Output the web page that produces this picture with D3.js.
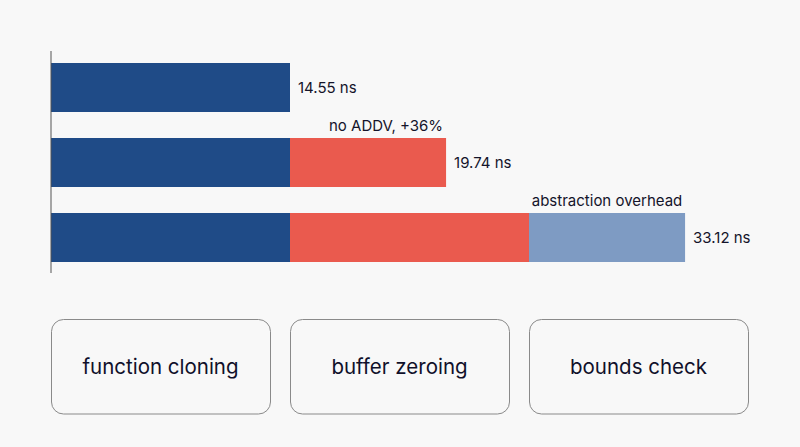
<!DOCTYPE html>
<html>
<head>
<meta charset="utf-8">
<script src="https://cdn.jsdelivr.net/npm/d3@7/dist/d3.min.js"></script>
<style>
  html, body { margin: 0; padding: 0; background: #f8f8f8; }
  svg { display: block; font-family: Inter, "Noto Sans", sans-serif; }
</style>
</head>
<body>
<svg id="chart" width="800" height="447"></svg>
<script>
// Rows (benchmark variants) and cumulative costs
const rows = ["baseline", "noAddv", "abstraction"];
const totalLabels = ["14.55 ns", "19.74 ns", "33.12 ns"];
// Stacked segment lengths (schematic units, one unit per cost column)
const segFunctionCloning = [1, 1, 1];
const segBufferZeroing = [0, 0.653, 1];
const segBoundsCheck = [0, 0, 0.653];
// Cost categories shown in the boxes below
const categories = ["function cloning", "buffer zeroing", "bounds check"];
const colors = ["#1f4b87", "#ea5a4e", "#7e9bc3"];
// Annotations: [row index, segment index, text, placement]
const annotations = [
  [1, 1, "no ADDV, +36%", "end"],
  [2, 2, "abstraction overhead", "middle"]
];

const svg = d3.select("#chart");
const x = d3.scaleLinear().domain([0, 3]).range([51, 768]);
const gap = 26 / 75;
const y = d3.scaleBand().domain(rows).range([50, 275])
  .paddingInner(gap).paddingOuter(gap / 2);

const table = rows.map((r, i) => ({
  row: r,
  s0: segFunctionCloning[i],
  s1: segBufferZeroing[i],
  s2: segBoundsCheck[i]
}));
const series = d3.stack().keys(["s0", "s1", "s2"])(table);

// bars
series.forEach((s, si) => {
  svg.append("g").selectAll("rect")
    .data(s.filter(d => d[1] - d[0] > 0))
    .join("rect")
    .attr("x", d => x(d[0]))
    .attr("y", d => y(d.data.row))
    .attr("width", d => x(d[1]) - x(d[0]))
    .attr("height", y.bandwidth())
    .attr("fill", colors[si]);
});

// axis line
svg.append("line")
  .attr("x1", x(0)).attr("x2", x(0))
  .attr("y1", y.range()[0] + 1).attr("y2", y.range()[1] - 2)
  .attr("stroke", "#555").attr("stroke-width", 1);

// total labels
const lastSeries = series[series.length - 1];
svg.append("g").selectAll("text")
  .data(lastSeries)
  .join("text")
  .attr("x", d => x(d[1]) + 8)
  .attr("y", d => y(d.data.row) + y.bandwidth() / 2 + 5.5)
  .attr("font-size", 15)
  .attr("fill", "#14142a")
  .text((d, i) => totalLabels[i]);

// annotations
svg.append("g").selectAll("text")
  .data(annotations)
  .join("text")
  .attr("x", d => {
    const seg = series[d[1]][d[0]];
    return d[3] === "end" ? x(seg[1]) - 3 : (x(seg[0]) + x(seg[1])) / 2;
  })
  .attr("y", d => y(rows[d[0]]) - 7)
  .attr("text-anchor", d => d[3])
  .attr("font-size", 15)
  .attr("fill", "#14142a")
  .text(d => d[2]);

// category boxes
const boxGap = 20;
const boxTop = 319.5, boxH = 94.5;
const boxes = svg.append("g").selectAll("g")
  .data(categories)
  .join("g");
boxes.append("rect")
  .attr("x", (d, i) => x(i) + 0.5)
  .attr("y", boxTop)
  .attr("width", (d, i) => x(i + 1) - x(i) - boxGap)
  .attr("height", boxH)
  .attr("rx", 12).attr("ry", 12)
  .attr("fill", "#f8f8f8")
  .attr("stroke", "#8a8a8a")
  .attr("stroke-width", 1);
boxes.append("text")
  .attr("x", (d, i) => x(i) + (x(i + 1) - x(i) - boxGap) / 2)
  .attr("y", boxTop + boxH / 2 + 7.5)
  .attr("text-anchor", "middle")
  .attr("font-size", 20.5)
  .attr("fill", "#10102a")
  .text(d => d);
</script>
</body>
</html>
